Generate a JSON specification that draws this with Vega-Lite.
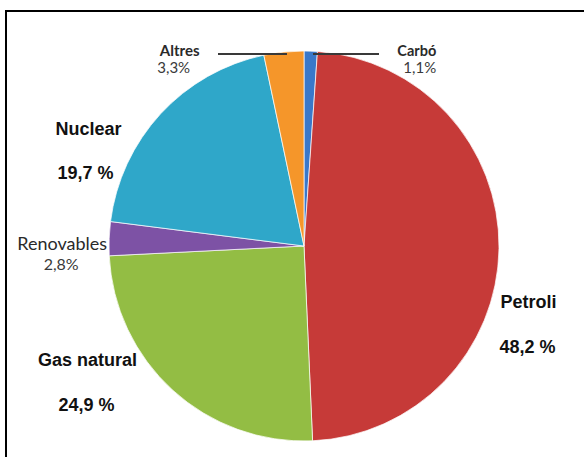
{
  "$schema": "https://vega.github.io/schema/vega-lite/v6.json",
  "width": 578,
  "height": 446,
  "autosize": {"type": "none"},
  "padding": {"left": 6, "top": 11, "right": 0, "bottom": 0},
  "background": "white",
  "config": {"view": {"stroke": "black", "strokeWidth": 2, "strokeDash": [578, 1024, 446]}},
  "data": {
    "values": [
      {"idx": 1, "name": "Carbó", "value": 1.1, "pct": "1,1%"},
      {"idx": 2, "name": "Petroli", "value": 48.2, "pct": "48,2 %"},
      {"idx": 3, "name": "Gas natural", "value": 24.9, "pct": "24,9 %"},
      {"idx": 4, "name": "Renovables", "value": 2.8, "pct": "2,8%"},
      {"idx": 5, "name": "Nuclear", "value": 19.7, "pct": "19,7 %"},
      {"idx": 6, "name": "Altres", "value": 3.3, "pct": "3,3%"}
    ]
  },
  "encoding": {
    "theta": {"field": "value", "type": "quantitative", "stack": true},
    "order": {"field": "idx", "type": "quantitative"},
    "detail": {"field": "name", "type": "nominal"},
    "x": {"value": {"expr": "width / 2 + 9"}},
    "y": {"value": {"expr": "height / 2 + 12"}}
  },
  "layer": [
    {
      "mark": {"type": "arc", "radius": 195, "stroke": "#ffffff", "strokeWidth": 1, "strokeOpacity": 0.7},
      "encoding": {
        "color": {
          "field": "name", "type": "nominal", "legend": null,
          "scale": {
            "domain": ["Carbó", "Petroli", "Gas natural", "Renovables", "Nuclear", "Altres"],
            "range": ["#3a78c9", "#c63a38", "#93bd44", "#7d52a5", "#2fa7c9", "#f5962a"]
          }
        }
      }
    },
    {
      "mark": {"type": "rule", "color": "#3a3a3a", "strokeWidth": 1.5},
      "encoding": {"x": {"value": 212}, "x2": {"value": 281}, "y": {"value": 43}}
    },
    {
      "mark": {"type": "rule", "color": "#3a3a3a", "strokeWidth": 1.5},
      "encoding": {"x": {"value": 307}, "x2": {"value": 373}, "y": {"value": 43}}
    },
    {
      "mark": {"type": "text", "radius": 225, "dx": 105, "dy": 35, "align": "center", "baseline": "alphabetic", "font": "Lato", "fontSize": 14.5, "fontWeight": "bold", "color": "#2a2a2a"},
      "encoding": {"text": {"condition": {"test": "datum.name === 'Carbó'", "field": "name"}, "value": ""}}
    },
    {
      "mark": {"type": "text", "radius": 225, "dx": 108, "dy": 52, "align": "center", "baseline": "alphabetic", "font": "Lato", "fontSize": 15, "color": "#3a3a3a"},
      "encoding": {"text": {"condition": {"test": "datum.name === 'Carbó'", "field": "pct"}, "value": ""}}
    },
    {
      "mark": {"type": "text", "radius": 225, "dx": -101, "dy": 33.5, "align": "center", "baseline": "alphabetic", "font": "Lato", "fontSize": 15, "fontWeight": "bold", "color": "#2a2a2a"},
      "encoding": {"text": {"condition": {"test": "datum.name === 'Altres'", "field": "name"}, "value": ""}}
    },
    {
      "mark": {"type": "text", "radius": 225, "dx": -107, "dy": 50.5, "align": "center", "baseline": "alphabetic", "font": "Lato", "fontSize": 15, "color": "#3a3a3a"},
      "encoding": {"text": {"condition": {"test": "datum.name === 'Altres'", "field": "pct"}, "value": ""}}
    },
    {
      "mark": {"type": "text", "radius": 225, "dx": -17, "dy": 12.5, "align": "center", "baseline": "alphabetic", "font": "Lato", "fontSize": 18, "color": "#2a2a2a"},
      "encoding": {"text": {"condition": {"test": "datum.name === 'Renovables'", "field": "name"}, "value": ""}}
    },
    {
      "mark": {"type": "text", "radius": 225, "dx": -18, "dy": 32, "align": "center", "baseline": "alphabetic", "font": "Lato", "fontSize": 16, "color": "#3a3a3a"},
      "encoding": {"text": {"condition": {"test": "datum.name === 'Renovables'", "field": "pct"}, "value": ""}}
    },
    {
      "mark": {"type": "text", "radius": 225, "dx": -50, "dy": 41.5, "align": "center", "baseline": "alphabetic", "font": "Liberation Sans", "fontSize": 18, "fontWeight": "bold", "color": "#111111"},
      "encoding": {"text": {"condition": {"test": "datum.name === 'Nuclear'", "field": "name"}, "value": ""}}
    },
    {
      "mark": {"type": "text", "radius": 225, "dx": -53, "dy": 85, "align": "center", "baseline": "alphabetic", "font": "Liberation Sans", "fontSize": 18, "fontWeight": "bold", "color": "#111111"},
      "encoding": {"text": {"condition": {"test": "datum.name === 'Nuclear'", "field": "pct"}, "value": ""}}
    },
    {
      "mark": {"type": "text", "radius": 225, "dx": -65, "dy": -46.5, "align": "center", "baseline": "alphabetic", "font": "Liberation Sans", "fontSize": 18, "fontWeight": "bold", "color": "#111111"},
      "encoding": {"text": {"condition": {"test": "datum.name === 'Gas natural'", "field": "name"}, "value": ""}}
    },
    {
      "mark": {"type": "text", "radius": 225, "dx": -66, "dy": -1.5, "align": "center", "baseline": "alphabetic", "font": "Liberation Sans", "fontSize": 18, "fontWeight": "bold", "color": "#111111"},
      "encoding": {"text": {"condition": {"test": "datum.name === 'Gas natural'", "field": "pct"}, "value": ""}}
    },
    {
      "mark": {"type": "text", "radius": 225, "dx": -0.5, "dy": 59, "align": "center", "baseline": "alphabetic", "font": "Liberation Sans", "fontSize": 18, "fontWeight": "bold", "color": "#111111"},
      "encoding": {"text": {"condition": {"test": "datum.name === 'Petroli'", "field": "name"}, "value": ""}}
    },
    {
      "mark": {"type": "text", "radius": 225, "dx": -1.5, "dy": 104, "align": "center", "baseline": "alphabetic", "font": "Liberation Sans", "fontSize": 18, "fontWeight": "bold", "color": "#111111"},
      "encoding": {"text": {"condition": {"test": "datum.name === 'Petroli'", "field": "pct"}, "value": ""}}
    }
  ]
}
